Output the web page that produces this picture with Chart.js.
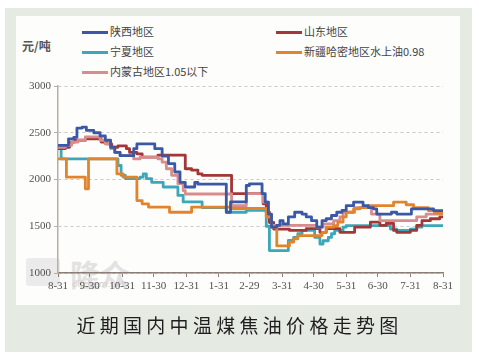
<!DOCTYPE html>
<html><head><meta charset="utf-8">
<script src="https://cdn.jsdelivr.net/npm/chart.js@4/dist/chart.umd.min.js"></script>
<style>
html,body{margin:0;padding:0;background:#fff;}
#wrap{position:relative;width:479px;height:356px;overflow:hidden;background:#fff;}
#frame{position:absolute;left:5px;top:8px;width:467px;height:344px;background:#e5eae3;}
#panel{position:absolute;left:16px;top:16px;width:444px;height:289px;background:#fdfdfc;}
#cv{position:absolute;left:0;top:0;}
.lg{position:absolute;font-family:"Noto Sans CJK SC","Noto Sans",sans-serif;font-size:11px;color:#444;line-height:14px;white-space:nowrap;}
.lg i{display:inline-block;width:26px;height:3px;vertical-align:middle;margin-right:2px;position:relative;top:-1px;}
#unit{position:absolute;left:22px;top:37px;font-family:"Noto Sans CJK SC",sans-serif;font-size:12px;font-weight:bold;color:#555;}
#cap{position:absolute;left:0;width:479px;top:311px;text-align:center;font-family:"Noto Sans CJK SC",sans-serif;font-size:19px;letter-spacing:4.3px;color:#1e1e1e;}
#wm1{position:absolute;left:70px;top:251px;font-family:"Noto Sans CJK SC",sans-serif;font-size:30px;font-weight:bold;color:#d8d8d8;opacity:.7;}
#wm2{position:absolute;left:72px;top:279px;font-family:"DejaVu Sans",sans-serif;font-size:9px;color:#d0d0d0;}
#wmbox{position:absolute;left:26px;top:258px;width:34px;height:28px;background:#e0e0e0;opacity:.6;border-radius:3px;}
</style></head>
<body><div id="wrap">
<div id="frame"></div>
<div id="panel"></div>
<div id="wmbox"></div><div id="wm1">隆众</div><div id="wm2">oilchem.net</div>
<div id="unit">元/吨</div>
<div class="lg" style="left:82px;top:24px"><i style="background:#3b58a6"></i>陕西地区</div>
<div class="lg" style="left:276px;top:24px"><i style="background:#a23737"></i>山东地区</div>
<div class="lg" style="left:82px;top:44px"><i style="background:#3ba7b9"></i>宁夏地区</div>
<div class="lg" style="left:276px;top:44px"><i style="background:#e2842c"></i>新疆哈密地区水上油0.98</div>
<div class="lg" style="left:82px;top:64px"><i style="background:#d98c8c"></i>内蒙古地区1.05以下</div>
<canvas id="cv" width="479" height="356"></canvas>
<div id="cap">近期国内中温煤焦油价格走势图</div>
</div>
<script>
// x-axis: days since 2011-08-31
const tickDays = [0,30,61,91,122,153,182,213,243,274,304,335,366];
const tickLabels = ["8-31","9-30","10-31","11-30","12-31","1-31","2-29","3-31","4-30","5-31","6-30","7-31","8-31"];
const yTickValues = [1000,1500,2000,2500,3000];

const shaanxiDays = [0,10,15,18,23,27,34,40,45,50,54,59,72,75,92,99,105,111,116,121,130,133,160,164,179,182,194,197,200,203,208,211,214,219,225,232,236,241,246,251,255,260,265,270,274,281,290,295,300,303,317,322,336,357,366];
const shaanxiPrices = [2365,2435,2450,2550,2560,2525,2500,2465,2420,2345,2290,2255,2330,2380,2330,2250,2170,2080,1970,1920,1970,1950,1650,1760,1936,1954,1850,1757,1630,1490,1510,1560,1525,1600,1650,1630,1600,1560,1490,1560,1580,1615,1650,1670,1720,1757,1720,1700,1685,1630,1650,1630,1685,1668,1668];

const shandongDays = [0,7,11,16,26,41,46,51,57,65,68,75,80,95,121,127,133,137,165,195,198,201,205,220,236,249,255,268,282,297,306,312,319,322,335,341,346,354,363,366];
const shandongPrices = [2330,2345,2400,2420,2435,2400,2380,2345,2360,2330,2290,2275,2240,2260,2115,2100,2060,2045,1850,1740,1650,1540,1470,1455,1475,1435,1475,1435,1490,1545,1510,1530,1455,1435,1455,1510,1560,1580,1600,1600];

const ningxiaDays = [0,3,57,60,64,78,81,84,89,100,114,119,137,160,179,198,201,219,224,228,232,244,249,252,257,260,263,271,274,316,322,335,341,346,366];
const ningxiaPrices = [2365,2220,2150,2045,2010,2025,2060,2010,1970,1920,1830,1760,1700,1650,1670,1500,1240,1350,1380,1420,1455,1380,1310,1345,1380,1420,1455,1490,1507,1470,1455,1470,1490,1507,1507];

const xinjiangDays = [0,8,26,29,56,62,75,80,86,106,127,165,198,203,208,220,224,228,251,255,262,266,271,274,281,287,295,319,331,338,352,358,366];
const xinjiangPrices = [2220,2025,1900,2220,2060,2025,1775,1740,1705,1650,1705,1690,1600,1490,1290,1330,1365,1400,1435,1490,1507,1545,1600,1650,1685,1700,1720,1757,1730,1700,1668,1640,1630];

const neimengDays = [0,7,13,19,26,40,45,50,54,59,72,78,95,99,103,108,114,119,121,165,179,195,200,203,246,252,262,268,271,282,298,306,341,350,366];
const neimengPrices = [2345,2365,2400,2420,2455,2420,2380,2330,2290,2255,2220,2240,2220,2185,2115,2045,1955,1880,1845,1720,1850,1757,1600,1510,1490,1525,1560,1600,1650,1700,1630,1560,1600,1630,1630];

const seriesNames = ["陕西地区","山东地区","宁夏地区","新疆哈密地区水上油0.98","内蒙古地区1.05以下"];
const seriesColors = ["#3b58a6","#a23737","#3ba7b9","#e2842c","#d98c8c"];
const seriesOrder = [0,3,4,1,2];

function pts(d, v){ return d.map((x,i)=>({x:x, y:v[i]})); }
const allData = [pts(shaanxiDays,shaanxiPrices),pts(shandongDays,shandongPrices),pts(ningxiaDays,ningxiaPrices),pts(xinjiangDays,xinjiangPrices),pts(neimengDays,neimengPrices)];

const tickFont = { family: '"Liberation Serif", "DejaVu Serif", serif', size: 11 };

new Chart(document.getElementById('cv'), {
  type: 'line',
  data: {
    datasets: allData.map((d,i)=>({
      label: seriesNames[i], data: d, borderColor: seriesColors[i], backgroundColor: seriesColors[i],
      borderWidth: 2.8, pointRadius: 0, stepped: 'before', fill: false, order: seriesOrder[i],
      borderJoinStyle: 'round'
    }))
  },
  options: {
    responsive: false, animation: false, devicePixelRatio: 1,
    layout: { padding: { left: 0, top: 86, right: 36, bottom: 63 } },
    plugins: { legend: { display: false }, tooltip: { enabled: false } },
    scales: {
      x: {
        type: 'linear', min: 0, max: 366,
        afterBuildTicks: (axis) => { axis.ticks = tickDays.map(v => ({ value: v })); },
        afterFit: (s) => { s.height = 20; s.paddingLeft = 0; s.paddingRight = 0; },
        ticks: { autoSkip: false, maxRotation: 0, padding: 3, color: '#505050', font: tickFont,
          callback: (v) => { const k = tickDays.indexOf(v); return k >= 0 ? tickLabels[k] : ''; } },
        grid: { display: true, drawOnChartArea: false, drawTicks: true, tickLength: 4, tickColor: '#8d7f77', tickWidth: 1 },
        border: { display: true, color: '#8d7f77', width: 1.6 }
      },
      y: {
        min: 1000, max: 3000,
        afterBuildTicks: (axis) => { axis.ticks = yTickValues.map(v => ({ value: v })); },
        afterFit: (s) => { s.width = 58; s.paddingTop = 0; s.paddingBottom = 0; },
        ticks: { padding: 3, color: '#505050', font: tickFont, callback: (v) => String(v) },
        grid: { color: '#c9c9c9', lineWidth: 1, drawTicks: true, tickLength: 4, tickColor: '#b9aea8' },
        border: { display: true, color: '#b9aea8', width: 1.5, dash: [3, 3] }
      }
    }
  }
});
</script>
</body></html>
